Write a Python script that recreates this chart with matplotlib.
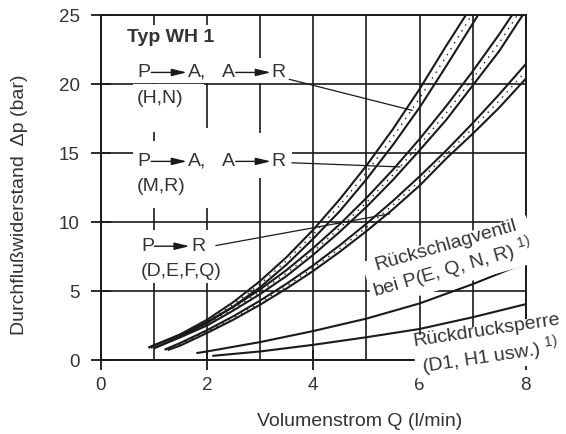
import matplotlib.pyplot as plt
from matplotlib.ticker import MultipleLocator

plt.rcParams['font.family'] = ['Liberation Sans', 'DejaVu Sans']
plt.rcParams['mathtext.fontset'] = 'custom'
plt.rcParams['mathtext.rm'] = 'Liberation Sans'

# Q (l/min) samples for the three bands
q_hn_up = [0.9, 1.5, 2, 2.5, 3, 3.5, 4, 4.5, 5, 5.5, 6, 6.5, 6.87]
dp_hn_up = [0.9, 1.87, 2.92, 4.21, 5.73, 7.47, 9.45, 11.66, 14.09, 16.75, 19.64, 22.77, 25]
q_hn_mid = [0.95, 1.5, 2, 2.5, 3, 3.5, 4, 4.5, 5, 5.5, 6, 6.5, 6.98]
dp_hn_mid = [0.87, 1.78, 2.8, 4.05, 5.5, 7.2, 9.12, 11.23, 13.6, 16.17, 18.97, 22.0, 25]
q_hn_lo = [1.0, 1.5, 2, 2.5, 3, 3.5, 4, 4.5, 5, 5.5, 6, 6.5, 7.1]
dp_hn_lo = [0.85, 1.7, 2.68, 3.9, 5.28, 6.93, 8.8, 10.8, 13.1, 15.6, 18.3, 21.3, 25]

q_mr_up = [0.9, 1.5, 2, 2.5, 3, 3.5, 4, 4.5, 5, 5.5, 6, 6.5, 7, 7.5, 7.74]
dp_mr_up = [0.9, 1.82, 2.76, 3.86, 5.12, 6.53, 8.12, 9.85, 11.75, 13.8, 16.02, 18.4, 20.93, 23.62, 25]
q_mr_mid = [0.95, 1.5, 2, 2.5, 3, 3.5, 4, 4.5, 5, 5.5, 6, 6.5, 7, 7.5, 7.84]
dp_mr_mid = [0.87, 1.73, 2.63, 3.73, 4.95, 6.31, 7.87, 9.57, 11.42, 13.43, 15.6, 17.9, 20.4, 23.0, 25]
q_mr_lo = [1.0, 1.5, 2, 2.5, 3, 3.5, 4, 4.5, 5, 5.5, 6, 6.5, 7, 7.5, 7.94]
dp_mr_lo = [0.85, 1.65, 2.5, 3.6, 4.78, 6.1, 7.63, 9.3, 11.1, 13.06, 15.2, 17.4, 19.9, 22.4, 25]

q_dq_up = [1.2, 1.5, 2, 2.5, 3, 3.5, 4, 4.5, 5, 5.5, 6, 6.5, 7, 7.5, 8]
dp_dq_up = [0.75, 1.24, 2.16, 3.18, 4.31, 5.54, 6.87, 8.32, 9.88, 11.54, 13.31, 15.18, 17.17, 19.26, 21.46]
q_dq_mid = [1.23, 1.5, 2, 2.5, 3, 3.5, 4, 4.5, 5, 5.5, 6, 6.5, 7, 7.5, 8]
dp_dq_mid = [0.73, 1.15, 2.06, 3.05, 4.16, 5.37, 6.67, 8.09, 9.61, 11.24, 12.98, 14.9, 16.8, 18.8, 20.95]
q_dq_lo = [1.26, 1.5, 2, 2.5, 3, 3.5, 4, 4.5, 5, 5.5, 6, 6.5, 7, 7.5, 8]
dp_dq_lo = [0.72, 1.05, 1.96, 2.93, 4.01, 5.19, 6.46, 7.85, 9.34, 10.93, 12.64, 14.6, 16.4, 18.3, 20.4]

# check valve / back pressure lock
q_rsv = [1.8, 2, 3, 4, 5, 6, 7, 8]
dp_rsv = [0.5, 0.62, 1.3, 2.1, 3.0, 4.1, 5.5, 7.05]
q_rds = [2.1, 3, 4, 5, 6, 7, 8]
dp_rds = [0.3, 0.62, 1.1, 1.65, 2.25, 3.1, 4.05]

ink = '#1a1a1a'
txt = '#333333'
fs = 14

fig = plt.figure(figsize=(5.66, 4.34), dpi=100)
ax = fig.add_axes([0.178, 0.1705, 0.751, 0.7945])

for q, dp in [(q_hn_up, dp_hn_up), (q_hn_lo, dp_hn_lo), (q_mr_up, dp_mr_up),
              (q_mr_lo, dp_mr_lo), (q_dq_up, dp_dq_up), (q_dq_lo, dp_dq_lo),
              (q_rsv, dp_rsv), (q_rds, dp_rds)]:
    ax.plot(q, dp, color=ink, lw=1.5, zorder=4, solid_capstyle='butt')
for q, dp in [(q_hn_mid, dp_hn_mid), (q_mr_mid, dp_mr_mid), (q_dq_mid, dp_dq_mid)]:
    ax.plot(q, dp, color=ink, lw=1.0, ls=(0, (1, 4)), zorder=4)

ax.set_xlim(0, 8)
ax.set_ylim(0, 25)
ax.xaxis.set_major_locator(MultipleLocator(2))
ax.xaxis.set_minor_locator(MultipleLocator(1))
ax.yaxis.set_major_locator(MultipleLocator(5))
ax.grid(True, which='both', color=ink, lw=1.2)
ax.set_axisbelow(True)
ax.tick_params(which='major', direction='inout', length=14, width=1.3, color=ink,
               labelsize=13.5, labelcolor=txt, pad=5)
ax.tick_params(axis='y', pad=8)
ax.tick_params(which='minor', length=0)
for s in ax.spines.values():
    s.set_color(ink)
    s.set_linewidth(1.4)

ax.set_xlabel('Volumenstrom Q (l/min)', fontsize=fs, color=txt)
ax.xaxis.set_label_coords(0.61, -0.155)
ax.set_ylabel('Durchflußwiderstand  Δp (bar)', fontsize=fs, color=txt)
ax.yaxis.set_label_coords(-0.17, 0.45)

# white areas that break the grid behind the labels (x0, x1, y0, y1)
masks = [(0.55, 2.35, 21.9, 24.3), (0.6, 3.6, 20.05, 21.9), (0.6, 1.95, 16.5, 20.0),
         (2.1, 3.6, 13.2, 16.45), (0.6, 2.1, 11.0, 15.9), (1.5, 2.1, 15.9, 16.8),
         (0.6, 2.6, 5.6, 9.4)]
for x0, x1, y0, y1 in masks:
    ax.add_patch(plt.Rectangle((x0, y0), x1 - x0, y1 - y0, facecolor='white',
                               edgecolor='none', zorder=2))

ax.text(0.5, 23.4, 'Typ WH 1', fontsize=fs, fontweight='bold', color=txt,
        va='center', ha='left', zorder=5)


def flow_label(y, parts):
    for px, s in parts:
        ax.text(px, y, s, fontsize=fs, color=txt, va='center', ha='left', zorder=5)


def arrow(x0, x1, y):
    ax.annotate('', xy=(x1, y), xytext=(x0, y),
                arrowprops=dict(arrowstyle='-|>,head_length=0.9,head_width=0.22',
                                color=ink, lw=1.0, shrinkA=0, shrinkB=0), zorder=6)


for y in (20.85, 14.4):
    flow_label(y, [(0.68, 'P'), (1.64, 'A,'), (2.28, 'A'), (3.22, 'R')])
    arrow(0.95, 1.62, y)
    arrow(2.54, 3.2, y)
flow_label(18.95, [(0.68, '(H,N)')])
flow_label(12.6, [(0.68, '(M,R)')])
flow_label(8.25, [(0.76, 'P'), (1.7, 'R')])
arrow(1.01, 1.67, 8.25)
flow_label(6.45, [(0.76, '(D,E,F,Q)')])

# leader lines
for p0, p1 in [((3.55, 20.35), (5.86, 18.1)), ((3.6, 14.3), (5.63, 14.0)), ((2.17, 8.3), (5.44, 10.6))]:
    ax.plot([p0[0], p1[0]], [p0[1], p1[1]], color=ink, lw=0.9, zorder=6)

sup = r'$^{\mathrm{1)}}$'
ax.text(6.57, 7.25, 'Rückschlagventil\nbei P(E, Q, N, R) ' + sup, fontsize=fs, color=txt,
        rotation=16, rotation_mode='anchor', ha='center', va='center',
        multialignment='center', linespacing=1.05,
        bbox=dict(facecolor='white', edgecolor='none', pad=2), zorder=5)
ax.text(7.3, 1.0, 'Rückdrucksperre\n(D1, H1 usw.) ' + sup, fontsize=fs, color=txt,
        rotation=8.5, rotation_mode='anchor', ha='center', va='center',
        multialignment='center', linespacing=1.15,
        bbox=dict(facecolor='white', edgecolor='none', pad=0.5), zorder=5, clip_on=False)

fig.savefig('out.png', dpi=100)
